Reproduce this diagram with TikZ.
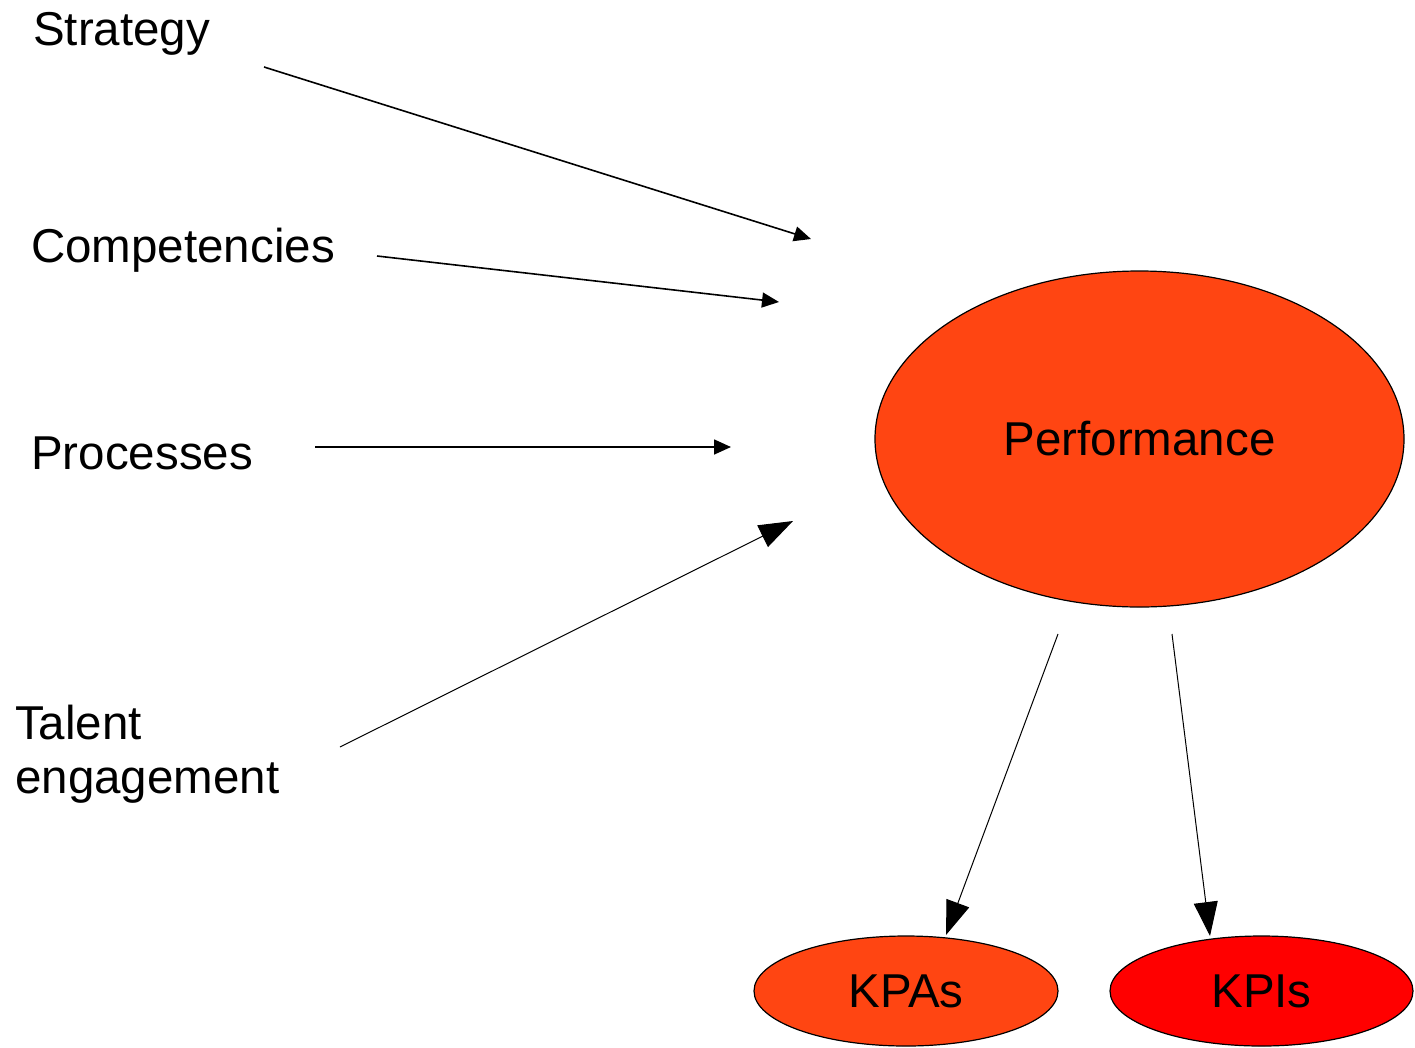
\documentclass[tikz,border=0pt]{standalone}
\usepackage{fontspec}
\setmainfont{Liberation Sans}
\usetikzlibrary{arrows.meta,shapes.geometric}
\definecolor{perforange}{HTML}{FF4512}
\definecolor{kpired}{HTML}{FF0000}
\begin{document}
\begin{tikzpicture}[x=1pt,y=-1pt,
  lbl/.style={inner sep=0pt,font=\fontsize{47.5}{54}\selectfont},
  oval/.style={ellipse,draw=black,line width=1.2pt,inner sep=0pt,font=\fontsize{47.5}{54}\selectfont},
  thinarrow/.style={line width=1.6pt,-{Triangle[length=17pt,width=15pt]}},
  bigarrow/.style={line width=1pt,-{Triangle[length=34pt,width=24pt]}}]
\useasboundingbox (0,0) rectangle (1415,1047);
\fill[white] (0,0) rectangle (1415,1047);
% labels
\node[lbl,anchor=base west] (strategy) at (33,45) {Strategy};
\node[lbl,anchor=base west] (comp) at (31,262) {Competencies};
\node[lbl,anchor=base west] (proc) at (31,469) {Processes};
\node[lbl,anchor=north west,align=left] (talent) at (15,705) {Talent\\engagement};
% ellipses
\node[oval,fill=perforange,minimum width=529pt,minimum height=336pt] (perf) at (1139.5,439) {Performance};
\node[oval,fill=perforange,minimum width=304pt,minimum height=110pt] (kpas) at (906,991) {KPAs};
\node[oval,fill=kpired,minimum width=303pt,minimum height=110pt] (kpis) at (1261.5,991) {KPIs};
% arrow endpoints
\coordinate (s1) at (264,67);  \coordinate (e1) at (811,239);
\coordinate (s2) at (377,256); \coordinate (e2) at (779,302);
\coordinate (s3) at (315,447); \coordinate (e3) at (731,447);
\coordinate (s4) at (340,747); \coordinate (e4) at (793,521);
\coordinate (s5) at (1058,634); \coordinate (e5) at (946,935);
\coordinate (s6) at (1172,634); \coordinate (e6) at (1210,936);
\draw[thinarrow] (s1) -- (e1);
\draw[thinarrow] (s2) -- (e2);
\draw[thinarrow] (s3) -- (e3);
\draw[bigarrow] (s4) -- (e4);
\draw[bigarrow] (s5) -- (e5);
\draw[bigarrow] (s6) -- (e6);
\end{tikzpicture}
\end{document}
